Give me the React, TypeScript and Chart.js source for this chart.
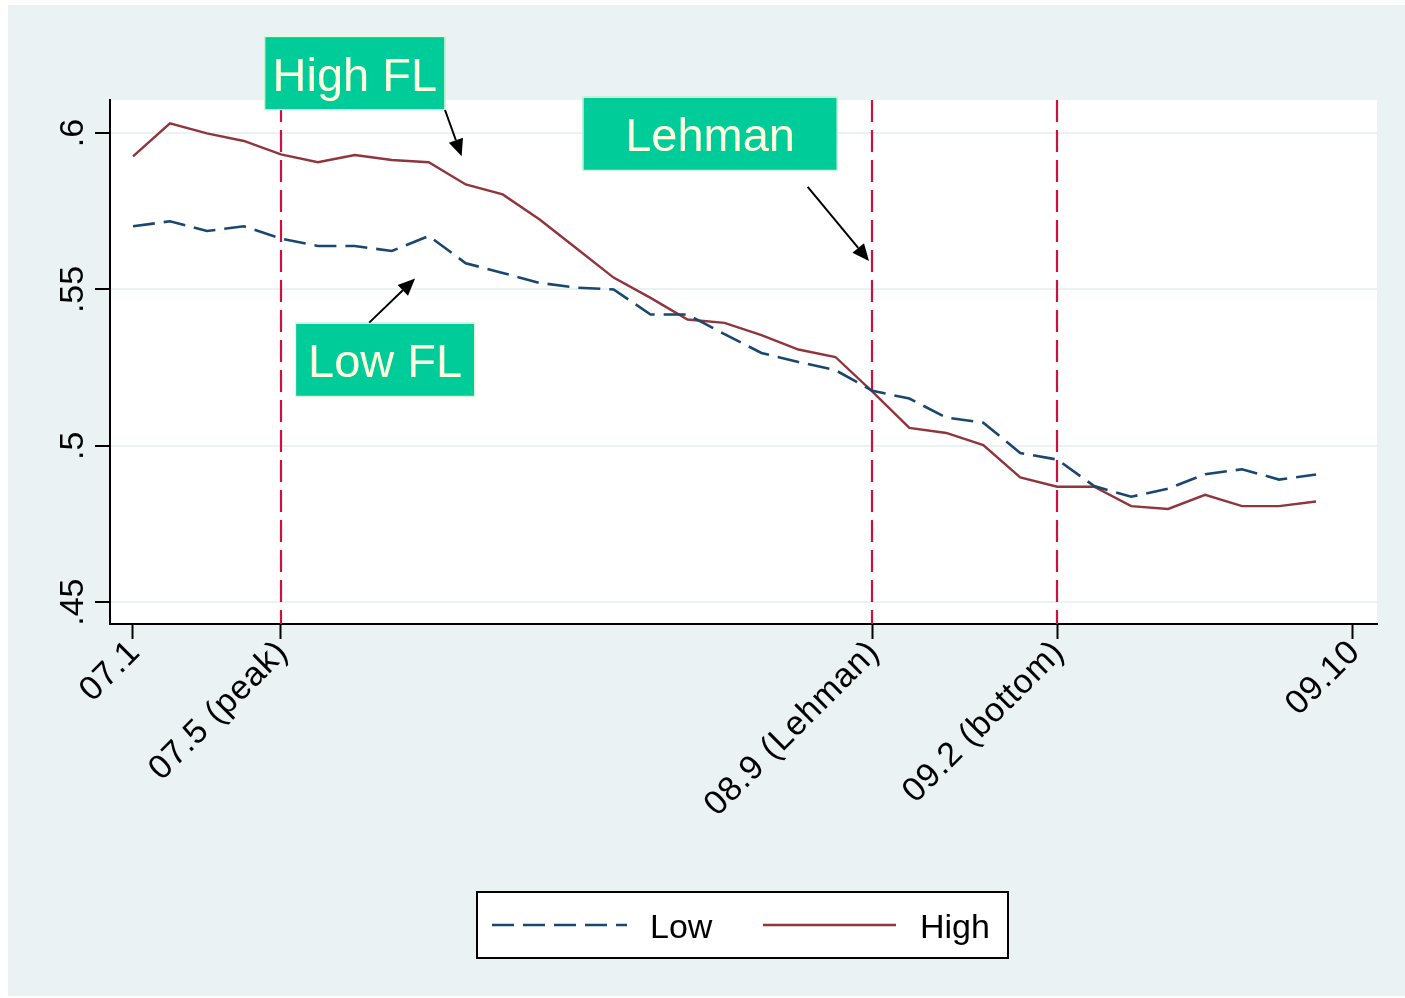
import React, { useEffect, useRef } from "react";
import { Chart, registerables } from "chart.js";

Chart.register(...registerables);

// Monthly series, index 0 = 2007.1 ... index 32 = 2009.9
const high = [
  0.5926, 0.6031, 0.5999, 0.5975, 0.5932, 0.5907, 0.593, 0.5914, 0.5907, 0.5836,
  0.5804, 0.5724, 0.5631, 0.5538, 0.5473, 0.5404, 0.5393, 0.5354, 0.5308, 0.5284,
  0.5173, 0.5057, 0.5041, 0.5002, 0.4899, 0.4869, 0.4869, 0.4807, 0.4798, 0.4843,
  0.4807, 0.4807, 0.4822,
];
const low = [
  0.5702, 0.5718, 0.5687, 0.5702, 0.5663, 0.5639, 0.5639, 0.5623, 0.5671, 0.5584,
  0.5553, 0.5521, 0.5506, 0.55, 0.542, 0.542, 0.5357, 0.5297, 0.5268, 0.5242,
  0.5176, 0.5151, 0.509, 0.5074, 0.4977, 0.4956, 0.4871, 0.4837, 0.4863, 0.4909,
  0.4925, 0.4892, 0.4908,
];

const xTickValues = [0, 4, 20, 25, 33];
const xTickLabels = ["07.1", "07.5 (peak)", "08.9 (Lehman)", "09.2 (bottom)", "09.10"];
const yTickValues = [0.45, 0.5, 0.55, 0.6];
const yTickLabels = [".45", ".5", ".55", ".6"];
const eventMonths = [4, 20, 25];

const seriesNames = ["Low", "High"];

// annotation boxes (centre in data coordinates) and their arrows
const annLabels = ["High FL", "Lehman", "Low FL"];
const annX = [6.0, 15.61, 6.82];
const annY = [0.6192, 0.5998, 0.5275];
const annW = [181, 255, 180];
const arrowFromX = [8.44, 18.25, 6.39];
const arrowFromY = [0.6074, 0.5828, 0.5394];
const arrowToX = [8.89, 19.91, 7.63];
const arrowToY = [0.5926, 0.5591, 0.5535];

const NAVY = "#1A476F";
const MAROON = "#90353B";
const BG = "#EAF2F3";
const EVENT = "#CC1040";
const BOX = "#00CC99";
const CREAM = "#FFFFE0";
const FONT = "'Liberation Sans', Arial, Helvetica, sans-serif";

const W = 1397;
const H = 991;

const drawPlugin = {
  id: "stataDecor",
  beforeDraw(chart: any) {
    const { ctx, chartArea } = chart;
    ctx.save();
    ctx.fillStyle = "#FFFFFF";
    ctx.fillRect(chartArea.left, chartArea.top, chartArea.right - chartArea.left, chartArea.bottom - chartArea.top);
    ctx.restore();
  },
  beforeDatasetsDraw(chart: any) {
    const { ctx, chartArea, scales } = chart;
    ctx.save();
    ctx.strokeStyle = EVENT;
    ctx.lineWidth = 2.2;
    ctx.setLineDash([22, 8]);
    for (const m of eventMonths) {
      const px = Math.round(scales.x.getPixelForValue(m));
      ctx.beginPath();
      ctx.moveTo(px, chartArea.top);
      ctx.lineTo(px, chartArea.bottom);
      ctx.stroke();
    }
    ctx.restore();
  },
  afterDraw(chart: any) {
    const { ctx, chartArea, scales } = chart;
    const xs = scales.x;
    const ys = scales.y;
    ctx.save();
    // x tick labels
    ctx.fillStyle = "#000";
    ctx.font = `34px ${FONT}`;
    xTickValues.forEach((v, i) => {
      const px = xs.getPixelForValue(v);
      ctx.save();
      ctx.translate(px + 2, chartArea.bottom + 23);
      ctx.rotate(-Math.PI / 4);
      ctx.textAlign = "right";
      ctx.textBaseline = "middle";
      try {
        (ctx as any).letterSpacing = "0.8px";
      } catch (e) {}
      ctx.fillText(xTickLabels[i], 0, 0);
      ctx.restore();
    });
    // y tick labels
    yTickValues.forEach((v, i) => {
      const py = ys.getPixelForValue(v);
      ctx.save();
      ctx.translate(chartArea.left - 27, py);
      ctx.rotate(-Math.PI / 2);
      ctx.textAlign = "center";
      ctx.textBaseline = "alphabetic";
      ctx.fillText(yTickLabels[i], 0, 0);
      ctx.restore();
    });

    // annotation boxes
    ctx.font = `47px ${FONT}`;
    annLabels.forEach((t, i) => {
      const cx = xs.getPixelForValue(annX[i]);
      const cy = ys.getPixelForValue(annY[i]);
      const w = annW[i];
      const h = 74;
      ctx.fillStyle = BOX;
      ctx.fillRect(cx - w / 2, cy - h / 2, w, h);
      ctx.strokeStyle = CREAM;
      ctx.lineWidth = 1;
      ctx.strokeRect(cx - w / 2 + 0.5, cy - h / 2 + 0.5, w - 1, h - 1);
      ctx.fillStyle = CREAM;
      ctx.textAlign = "center";
      ctx.textBaseline = "alphabetic";
      ctx.fillText(t, cx, cy + 17.5);
    });

    // arrows
    annLabels.forEach((_, i) => {
      const x1 = xs.getPixelForValue(arrowFromX[i]);
      const y1 = ys.getPixelForValue(arrowFromY[i]);
      const x2 = xs.getPixelForValue(arrowToX[i]);
      const y2 = ys.getPixelForValue(arrowToY[i]);
      const ang = Math.atan2(y2 - y1, x2 - x1);
      const hl = 17;
      const hw = 7.5;
      const bx = x2 - hl * Math.cos(ang);
      const by = y2 - hl * Math.sin(ang);
      ctx.strokeStyle = "#000";
      ctx.lineWidth = 2;
      ctx.setLineDash([]);
      ctx.beginPath();
      ctx.moveTo(x1, y1);
      ctx.lineTo(bx, by);
      ctx.stroke();
      ctx.fillStyle = "#000";
      ctx.beginPath();
      ctx.moveTo(x2, y2);
      ctx.lineTo(bx + hw * Math.sin(ang), by - hw * Math.cos(ang));
      ctx.lineTo(bx - hw * Math.sin(ang), by + hw * Math.cos(ang));
      ctx.closePath();
      ctx.fill();
    });

    // legend
    const lw = 531;
    const lh = 66;
    const lx = (chartArea.left + chartArea.right) / 2 - lw / 2 - 1;
    const ly = chartArea.bottom + 268;
    ctx.fillStyle = "#FFFFFF";
    ctx.fillRect(lx, ly, lw, lh);
    ctx.strokeStyle = "#000";
    ctx.lineWidth = 2;
    ctx.strokeRect(lx, ly, lw, lh);
    const midY = ly + lh / 2;
    ctx.lineWidth = 2.5;
    ctx.strokeStyle = NAVY;
    ctx.setLineDash([22, 9]);
    ctx.beginPath();
    ctx.moveTo(lx + 15, midY);
    ctx.lineTo(lx + 150, midY);
    ctx.stroke();
    ctx.setLineDash([]);
    ctx.strokeStyle = MAROON;
    ctx.lineWidth = 2.4;
    ctx.beginPath();
    ctx.moveTo(lx + 286, midY);
    ctx.lineTo(lx + 419, midY);
    ctx.stroke();
    ctx.fillStyle = "#000";
    ctx.font = `34px ${FONT}`;
    ctx.textAlign = "left";
    ctx.textBaseline = "alphabetic";
    ctx.fillText(seriesNames[0], lx + 173, ly + 46);
    ctx.fillText(seriesNames[1], lx + 443, ly + 46);
    ctx.restore();
  },
};

export default function App() {
  const ref = useRef<HTMLCanvasElement | null>(null);
  useEffect(() => {
    if (!ref.current) return;
    const chart = new Chart(ref.current, {
      type: "line",
      data: {
        datasets: [
          {
            label: seriesNames[0],
            data: low.map((v, i) => ({ x: i, y: v })),
            borderColor: NAVY,
            borderWidth: 2.6,
            borderDash: [22, 9],
            pointRadius: 0,
            tension: 0,
            fill: false,
          },
          {
            label: seriesNames[1],
            data: high.map((v, i) => ({ x: i, y: v })),
            borderColor: MAROON,
            borderWidth: 2.4,
            pointRadius: 0,
            tension: 0,
            fill: false,
          },
        ],
      },
      options: {
        animation: false,
        responsive: false,
        devicePixelRatio: 1,
        layout: { padding: { left: 87, right: 28, top: 95, bottom: 357 } },
        plugins: { legend: { display: false }, tooltip: { enabled: false }, title: { display: false } },
        scales: {
          x: {
            type: "linear",
            min: -0.622,
            max: 33.65,
            afterBuildTicks: (s: any) => {
              s.ticks = xTickValues.map((v) => ({ value: v }));
            },
            afterFit: (s: any) => {
              s.height = 15;
            },
            ticks: { display: false },
            grid: {
              drawOnChartArea: false,
              drawTicks: true,
              tickLength: 15,
              tickColor: "#000",
              tickWidth: 2,
            },
            border: { display: true, color: "#000", width: 2 },
          },
          y: {
            type: "linear",
            min: 0.443,
            max: 0.6106,
            afterBuildTicks: (s: any) => {
              s.ticks = yTickValues.map((v) => ({ value: v }));
            },
            afterFit: (s: any) => {
              s.width = 15;
            },
            ticks: { display: false },
            grid: {
              color: BG,
              lineWidth: 2,
              drawTicks: true,
              tickLength: 15,
              tickColor: "#000",
              tickWidth: 2,
            },
            border: { display: true, color: "#000", width: 2 },
          },
        },
      },
      plugins: [drawPlugin],
    });
    return () => chart.destroy();
  }, []);

  return (
    <div
      style={{
        position: "absolute",
        left: 8,
        top: 5,
        width: W,
        height: H,
        background: BG,
      }}
    >
      <canvas ref={ref} width={W} height={H} style={{ display: "block" }} />
    </div>
  );
}
